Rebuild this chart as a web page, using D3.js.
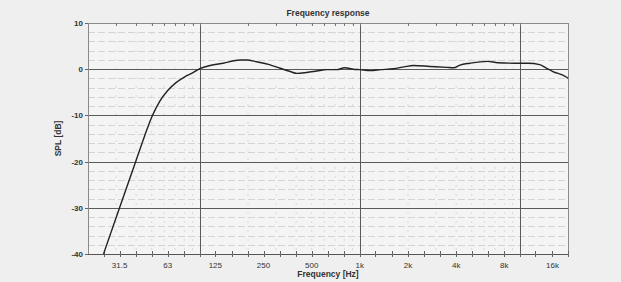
<!DOCTYPE html>
<html><head><meta charset="utf-8">
<script src="https://cdn.jsdelivr.net/npm/d3@7"></script>
<style>
html,body{margin:0;padding:0;background:#efefef;}
svg{display:block;font-family:"Liberation Sans",Arial,sans-serif;}
</style></head><body>
<svg id="c" width="621" height="282"></svg>
<script>
const freqs = [25, 31.5, 40, 45, 50, 56, 63, 71, 80, 90, 100, 116, 140, 178, 196, 227, 272, 318, 367, 404, 465, 538, 623, 716, 804, 910, 1000, 1164, 1350, 1620, 1890, 2160, 2740, 3490, 3860, 4220, 4880, 6290, 7280, 9280, 11300, 13300, 14700, 16100, 19500, 20000];
const spl   = [-40, -30, -19.7, -14.6, -10.4, -7.0, -4.6, -2.9, -1.7, -0.8, 0.1, 0.8, 1.3, 2.0, 2.0, 1.6, 1.0, 0.2, -0.5, -0.9, -0.7, -0.4, -0.1, -0.1, 0.3, 0.0, -0.1, -0.3, -0.1, 0.1, 0.5, 0.8, 0.6, 0.4, 0.3, 0.9, 1.3, 1.7, 1.4, 1.3, 1.3, 1.0, 0.2, -0.5, -1.7, -2.0];
const xTickValues = [31.5, 63, 125, 250, 500, 1000, 2000, 4000, 8000, 16000];
const xTickLabels = ["31.5", "63", "125", "250", "500", "1k", "2k", "4k", "8k", "16k"];
const thirdOctave = [25, 31.5, 40, 50, 63, 80, 100, 125, 160, 200, 250, 315, 400, 500, 630, 800, 1000, 1250, 1600, 2000, 2500, 3150, 4000, 5000, 6300, 8000, 10000, 12500, 16000, 20000];
const yTickValues = [10, 0, -10, -20, -30, -40];
const title = "Frequency response";
const xLabel = "Frequency [Hz]";
const yLabel = "SPL [dB]";

const svg = d3.select("#c");
const L = 88, R = 568, T = 23, B = 254;
const x = d3.scaleLog().domain([20, 20000]).range([L, R]);
const y = d3.scaleLinear().domain([-40, 10]).range([B, T]);

svg.append("rect").attr("x", L).attr("y", T).attr("width", R - L).attr("height", B - T).attr("fill", "#f4f4f4");

const minorDec = [];
[10, 100, 1000, 10000].forEach(d => { for (let k = 1; k <= 9; k++) { const v = d * k; if (v > 20 && v < 20000) minorDec.push(v); } });

svg.append("g").selectAll("line").data(minorDec.filter(v => ![100, 1000, 10000].includes(v))).join("line")
  .attr("x1", d => x(d)).attr("x2", d => x(d)).attr("y1", T).attr("y2", B)
  .attr("stroke", "#dadada").attr("stroke-width", 1).attr("stroke-dasharray", "2,7");

const minorY = d3.range(-38, 10, 2).filter(v => v % 10 !== 0);
svg.append("g").selectAll("line").data(minorY).join("line")
  .attr("x1", L).attr("x2", R).attr("y1", d => Math.round(y(d)) + 0.5).attr("y2", d => Math.round(y(d)) + 0.5)
  .attr("stroke", "#d4d4d4").attr("stroke-width", 1).attr("stroke-dasharray", "7,3");

svg.append("g").selectAll("line").data(yTickValues).join("line")
  .attr("x1", L).attr("x2", R).attr("y1", d => Math.round(y(d)) + 0.5).attr("y2", d => Math.round(y(d)) + 0.5)
  .attr("stroke", d => (d === 10 || d === -40) ? "#8a8a8a" : "#5a5a5a").attr("stroke-width", 1);

svg.append("g").selectAll("line").data([100, 1000, 10000]).join("line")
  .attr("x1", d => Math.round(x(d)) + 0.5).attr("x2", d => Math.round(x(d)) + 0.5).attr("y1", T).attr("y2", B)
  .attr("stroke", "#5a5a5a").attr("stroke-width", 1);

svg.append("line").attr("x1", L + 0.5).attr("x2", L + 0.5).attr("y1", T).attr("y2", B).attr("stroke", "#8a8a8a");
svg.append("line").attr("x1", R + 0.5).attr("x2", R + 0.5).attr("y1", T).attr("y2", B).attr("stroke", "#8a8a8a");
svg.append("line").attr("x1", L).attr("x2", R + 1).attr("y1", Math.round(B) + 0.5).attr("y2", Math.round(B) + 0.5).attr("stroke", "#555");

svg.append("g").selectAll("line").data(thirdOctave).join("line")
  .attr("x1", d => Math.round(x(d)) + 0.5).attr("x2", d => Math.round(x(d)) + 0.5)
  .attr("y1", B - 3).attr("y2", B + 3).attr("stroke", "#666");
svg.append("g").selectAll("line").data(minorDec).join("line")
  .attr("x1", d => Math.round(x(d)) + 0.5).attr("x2", d => Math.round(x(d)) + 0.5)
  .attr("y1", T).attr("y2", T + 3).attr("stroke", "#777");

svg.append("g").selectAll("text").data(xTickValues).join("text")
  .attr("x", d => x(d)).attr("y", B + 14).attr("text-anchor", "middle")
  .attr("font-size", 8).attr("fill", "#333").text((d, i) => xTickLabels[i]);

svg.append("g").selectAll("text").data(yTickValues).join("text")
  .attr("x", L - 5).attr("y", d => y(d) + 3).attr("text-anchor", "end")
  .attr("font-size", 8).attr("font-weight", "bold").attr("fill", "#333").text(d => d);

svg.append("g").selectAll("line").data(yTickValues).join("line")
  .attr("x1", L - 3).attr("x2", L).attr("y1", d => Math.round(y(d)) + 0.5).attr("y2", d => Math.round(y(d)) + 0.5).attr("stroke", "#666");

const line = d3.line().x((d, i) => x(freqs[i])).y(d => y(d)).curve(d3.curveMonotoneX);
svg.append("path").datum(spl).attr("d", line).attr("fill", "none").attr("stroke", "#222").attr("stroke-width", 1.4);

svg.append("text").attr("x", (L + R) / 2).attr("y", 16).attr("text-anchor", "middle")
  .attr("font-size", 8.5).attr("font-weight", "bold").attr("fill", "#333").text(title);
svg.append("text").attr("x", (L + R) / 2).attr("y", 277).attr("text-anchor", "middle")
  .attr("font-size", 8.5).attr("font-weight", "bold").attr("fill", "#333").text(xLabel);
svg.append("text").attr("transform", `translate(61,${(T + B) / 2}) rotate(-90)`).attr("text-anchor", "middle")
  .attr("font-size", 8.5).attr("font-weight", "bold").attr("fill", "#333").text(yLabel);
</script>
</body></html>
